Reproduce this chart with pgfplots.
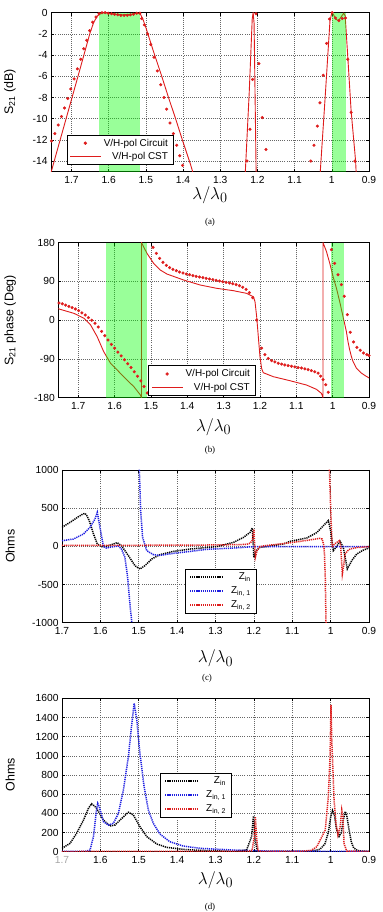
\documentclass[border=0pt]{standalone}
\usepackage{pgfplots}
\pgfplotsset{compat=1.18}
\usepackage{fontspec}
\setmainfont{Liberation Sans}
\newfontfamily\capfont{Liberation Serif}

\definecolor{cred}{RGB}{222,28,28}
\definecolor{cblue}{RGB}{30,30,225}
\definecolor{band}{RGB}{0,255,0}

\newcommand{\tickfont}{\fontsize{10.3}{12}\selectfont}
\newcommand{\legfont}{\fontsize{10}{12}\selectfont}
\newcommand{\labfont}{\fontsize{12.5}{14}\selectfont}
\newcommand{\mathlab}{\fontsize{19}{22}\selectfont}
\newcommand{\capsize}{\capfont\fontsize{9}{10}\selectfont}

\pgfplotsset{
  panel/.style={
    scale only axis, anchor=south west, x dir=reverse,
    xtick={0.9,1.0,1.1,1.2,1.3,1.4,1.5,1.6,1.7},
    grid=major, grid style={dash pattern=on 0.6bp off 1.5bp, black!60, line width=0.5bp},
    axis line style={line width=0.7bp},
    tick style={black, line width=0.5bp}, major tick length=3bp,
    tick label style={font=\tickfont},
    xticklabel style={yshift=-1.5bp},
    /pgf/number format/assume math mode=true,
    /pgf/number format/1000 sep={},
    ylabel style={font=\labfont},
    xlabel style={font=\mathlab},
    xlabel={$\lambda/\lambda_0$},
    legend style={draw=black, line width=0.6bp, fill=white, font=\legfont,
      anchor=south west, inner xsep=3bp, inner ysep=2bp, row sep=0.5bp},
    legend cell align=right,
  },
  linelegend/.style={legend image code/.code={\draw[##1] (0bp,0bp) -- (31bp,0bp);}},
  zlegend/.style={legend image code/.code={%
    \path[draw=none,fill=none] (0bp,0bp) -- (41bp,0bp);%
    \draw[##1] (2bp,0bp) -- (34bp,0bp);}},
  dotlegend/.style={legend image code/.code={%
    \path[draw=none,fill=none] (0bp,0bp) -- (31bp,0bp);%
    \draw[##1] plot coordinates {(15bp,0bp)};}},
  circuit/.style={only marks, mark=*, mark size=1.35bp, color=cred, dotlegend},
  cst/.style={color=cred, line width=0.9bp, mark=none, linelegend},
  zline/.style={dash pattern=on 1.2bp off 0.9bp, line width=1.5bp, mark=none, zlegend},
  greenband/.style={fill=band, fill opacity=0.4, draw=none, forget plot},
}

\begin{document}
\begin{tikzpicture}[x=1bp,y=1bp]
\path[use as bounding box] (0,0) rectangle (382,912);

% ---------------- (a) transmission magnitude ----------------
\begin{axis}[panel, at={(51bp,740.3bp)}, width=318bp, height=159bp,
  xmin=0.9, xmax=1.755, ymin=-15, ymax=0,
  ytick={-14,-12,-10,-8,-6,-4,-2,0},
  ylabel={S\textsubscript{21} (dB)},
  ylabel style={at={(axis description cs:-0.129,0.5)}, anchor=center},
  xlabel style={at={(axis description cs:0.5,-0.145)}, anchor=center},
  legend style={at={(axis description cs:0.049,0.042)}},
]
\addplot[circuit] coordinates {
 (1.7535,-12.1) (1.7446,-11.4) (1.7357,-10.6) (1.7267,-9.8) (1.7187,-9.0)
 (1.7098,-8.1) (1.7018,-7.2) (1.6929,-6.25) (1.6840,-5.3) (1.6750,-4.4)
 (1.6670,-3.4) (1.6590,-2.6) (1.6510,-1.7) (1.6430,-0.9) (1.6340,-0.4)
 (1.6260,-0.1) (1.6180,0.0) (1.6095,0.0) (1.6010,-0.05) (1.5925,-0.1)
 (1.5840,-0.15) (1.5755,-0.2) (1.5670,-0.25) (1.5585,-0.25) (1.5500,-0.25)
 (1.5415,-0.2) (1.5330,-0.15) (1.5245,-0.05) (1.5160,-0.05) (1.5110,-0.56)
 (1.5040,-1.15) (1.4950,-2.0) (1.4870,-3.0) (1.4780,-4.2) (1.4690,-5.5)
 (1.4600,-6.8) (1.4510,-8.0) (1.4440,-9.1) (1.4350,-10.4) (1.4260,-11.4)
 (1.4170,-12.5) (1.4090,-13.5) (1.4010,-14.4)
 (1.228,-14) (1.220,-11) (1.213,-6.3) (1.204,-0.1) (1.196,-4.8) (1.187,-9.9) (1.177,-12.9)
 (1.0565,-14) (1.048,-12.5) (1.039,-10.7) (1.032,-8.5) (1.023,-5.9) (1.014,-2.9)
 (1.006,-0.6) (0.999,0) (0.990,-0.5) (0.981,-0.75) (0.972,-0.55) (0.963,-0.5)
 (0.957,-4.4) (0.948,-9.4) (0.938,-14)
};
\addlegendentry{V/H-pol Circuit}
\addplot[cst] coordinates {
 (1.765,-16.2) (1.7535,-14.9) (1.74,-13.2) (1.72,-10.7) (1.70,-8.2) (1.68,-5.7)
 (1.665,-3.8) (1.65,-1.9) (1.64,-0.9) (1.63,-0.3) (1.62,-0.05) (1.61,0)
 (1.60,-0.05) (1.58,-0.15) (1.56,-0.2) (1.54,-0.15) (1.525,-0.05) (1.515,-0.1)
 (1.507,-0.7) (1.50,-1.4) (1.48,-3.6) (1.46,-5.7) (1.44,-7.9) (1.42,-10.0)
 (1.40,-12.2) (1.38,-14.3) (1.37,-15.5) (1.36,-17) (1.24,-17)
 (1.2325,-15) (1.222,-7.5) (1.214,-0.6) (1.2115,0) (1.209,-1.0) (1.2035,-15)
 (1.200,-17) (1.035,-17) (1.031,-15) (1.017,-7.5) (1.005,-0.8) (1.000,0)
 (0.995,-0.2) (0.990,-0.6) (0.982,-0.75) (0.975,-0.4) (0.968,-0.05)
 (0.964,-0.3) (0.957,-4.2) (0.948,-9.3) (0.936,-14) (0.934,-15.5) (0.93,-17)
};
\addlegendentry{V/H-pol CST}
\addplot[greenband] coordinates {(1.627,-15) (1.627,0) (1.517,0) (1.517,-15)};
\addplot[greenband] coordinates {(1.0,-15) (1.0,0) (0.963,0) (0.963,-15)};
\end{axis}
\node[font=\capsize] at (210,689.7) {(a)};

% ---------------- (b) transmission phase ----------------
\begin{axis}[panel, at={(58.3bp,514.3bp)}, width=310.7bp, height=155bp,
  xmin=0.9, xmax=1.755, ymin=-180, ymax=180,
  ytick={-180,-90,0,90,180},
  ylabel={S\textsubscript{21} phase (Deg)},
  ylabel style={at={(axis description cs:-0.155,0.5)}, anchor=center},
  xlabel style={at={(axis description cs:0.5,-0.19)}, anchor=center},
  legend style={at={(axis description cs:0.29,0.012)}},
]
\addplot[circuit] coordinates {
 (1.753,40) (1.744,38) (1.735,35) (1.726,32) (1.717,29) (1.708,26) (1.699,22)
 (1.690,17) (1.681,12) (1.672,6) (1.663,0) (1.654,-7) (1.645,-16) (1.636,-26)
 (1.627,-36) (1.618,-46) (1.609,-56) (1.600,-65) (1.591,-74) (1.582,-83)
 (1.573,-92) (1.564,-101) (1.555,-110) (1.546,-120) (1.537,-130) (1.528,-141)
 (1.519,-154) (1.510,-169)
 (1.4943,169.2) (1.4852,155.2) (1.4760,143.6) (1.4669,134.3) (1.4578,127.4)
 (1.4486,121.9) (1.4395,118.1) (1.4303,115.0) (1.4212,111.9) (1.4120,109.5)
 (1.4029,107.2) (1.3938,105.7) (1.3846,103.4) (1.3755,101.8) (1.3663,100.3)
 (1.3572,98.7) (1.3480,97.2) (1.3389,95.6) (1.3298,94.1) (1.3206,92.5)
 (1.3115,91.0) (1.3023,89.4) (1.2932,87.9) (1.2840,86.3) (1.2749,84.8)
 (1.2658,82.5) (1.2566,80.1) (1.2475,76.3) (1.2383,71.6) (1.2292,63.9)
 (1.2200,52.3) (1.2090,0.4)
 (1.1955,-65) (1.1864,-80) (1.1773,-89) (1.1681,-94) (1.1590,-97) (1.1499,-100)
 (1.1407,-102) (1.1316,-104) (1.1224,-105.5) (1.1133,-107) (1.1042,-108.5)
 (1.0950,-110) (1.0859,-111) (1.0767,-113) (1.0676,-115) (1.0585,-117)
 (1.0493,-120) (1.0402,-123) (1.0330,-130) (1.0265,-138) (1.0190,-150) (1.0120,-167.5)
 (1.0035,163.7) (0.9945,132) (0.9854,105.7) (0.9760,82.5) (0.9680,55.5)
 (0.9597,12.8) (0.9514,-28.1) (0.9424,-50.6) (0.9333,-63) (0.9240,-70)
 (0.9150,-76.2) (0.9060,-80.1) (0.9000,-82)
};
\addlegendentry{V/H-pol Circuit}
\addplot[cst] coordinates {
 (1.76,30) (1.753,26) (1.712,15.9) (1.684,4.3) (1.666,-11.2) (1.648,-38.3)
 (1.630,-73.2) (1.611,-100.3) (1.593,-115.7) (1.566,-139) (1.547,-154.4)
 (1.529,-173.8) (1.526,-180) (1.526,180)
 (1.511,155.2) (1.4925,132) (1.4742,116.5) (1.456,107.2) (1.410,93.3)
 (1.3645,81.7) (1.3188,74) (1.273,68.5) (1.2366,62.3) (1.2183,54.6)
 (1.2137,43) (1.2091,8.1) (1.2046,-38.3) (1.200,-84.8) (1.1955,-111.9)
 (1.191,-121.9) (1.1634,-131.2) (1.1177,-140.5) (1.072,-150.6) (1.0446,-160.6)
 (1.0309,-169.9) (1.0265,-180) (1.0265,180)
 (1.0173,160) (1.0082,132.8) (0.9991,101.9) (0.9898,74.8) (0.9808,43.8)
 (0.9717,9) (0.9624,-25.8) (0.958,-49) (0.9533,-68.5) (0.9487,-83.8)
 (0.9443,-95.5) (0.935,-111) (0.9213,-122.6) (0.9076,-130.3) (0.9,-134)
};
\addlegendentry{V/H-pol CST}
\addplot[greenband] coordinates {(1.623,-180) (1.623,180) (1.511,180) (1.511,-180)};
\addplot[greenband] coordinates {(1.0053,-180) (1.0053,180) (0.969,180) (0.969,-180)};
\end{axis}
\node[font=\capsize] at (210,462) {(b)};

% ---------------- (c) input reactance ----------------
\begin{axis}[panel, at={(62bp,289.3bp)}, width=307bp, height=152.7bp,
  xmin=0.9, xmax=1.7, ymin=-1000, ymax=1000,
  ytick={-1000,-500,0,500,1000},
  ylabel={Ohms},
  ylabel style={at={(axis description cs:-0.169,0.5)}, anchor=center},
  xlabel style={at={(axis description cs:0.5,-0.235)}, anchor=center},
  legend style={at={(axis description cs:0.40,0.06)}, row sep=1.7bp},
]
\addlegendimage{zline, black}
\addlegendentry{Z\textsubscript{in}}
\addlegendimage{zline, cblue}
\addlegendentry{Z\textsubscript{in, 1}}
\addlegendimage{zline, cred}
\addlegendentry{Z\textsubscript{in, 2}}
\addplot[zline, black, forget plot] coordinates {
 (1.70,249) (1.679,314) (1.657,389) (1.645,425) (1.640,432) (1.635,400)
 (1.629,336) (1.618,162) (1.608,31) (1.597,-4) (1.584,0) (1.566,31) (1.556,48)
 (1.545,9) (1.527,-122) (1.510,-253) (1.497,-297) (1.484,-253) (1.466,-166)
 (1.445,-109) (1.410,-66) (1.366,-35) (1.297,-4) (1.253,52) (1.227,118)
 (1.210,183) (1.204,240) (1.200,-144) (1.194,-57) (1.184,-13) (1.167,-4)
 (1.123,31) (1.106,65) (1.062,110) (1.036,180) (1.019,270) (1.006,337)
 (1.000,206) (0.993,-56) (0.986,-13) (0.9755,66) (0.967,-13) (0.9565,-296)
 (0.945,-187) (0.932,-100) (0.915,-50) (0.90,-21)
};
% Z_in,1 on both sides of its pole
\addplot[zline, cblue, forget plot] coordinates {
 (1.70,74) (1.67,96) (1.644,162) (1.627,249) (1.614,358) (1.608,445)
 (1.601,249) (1.592,-4) (1.584,-22) (1.566,-4) (1.553,4) (1.545,-35)
 (1.536,-144) (1.529,-406) (1.523,-755) (1.518,-1000) (1.515,-1300)
};
\addplot[zline, cblue, forget plot] coordinates {
 (1.501,1300) (1.4985,1000) (1.495,467) (1.490,118) (1.479,-57) (1.462,-109)
 (1.445,-118) (1.410,-92) (1.366,-66) (1.323,-39) (1.253,-22) (1.200,-4)
 (1.167,-4) (1.0,-4) (0.90,-4)
};
% Z_in,2 on both sides of its pole
\addplot[zline, cred, forget plot] coordinates {
 (1.70,12) (1.50,14) (1.30,18) (1.22,25) (1.21,40) (1.204,80) (1.200,225)
 (1.198,30) (1.196,-140) (1.192,-60) (1.185,-5) (1.17,10) (1.15,20) (1.10,50)
 (1.054,84) (1.028,105) (1.022,95) (1.018,20) (1.016,-100) (1.014,-400)
 (1.012,-1000) (1.011,-1300)
};
\addplot[zline, cred, forget plot] coordinates {
 (1.004,1300) (1.003,1000) (0.9997,468) (0.996,-13) (0.990,30) (0.983,55)
 (0.977,75) (0.974,20) (0.9695,-362) (0.966,-250) (0.9624,-100) (0.955,-55)
 (0.949,-34) (0.93,-15) (0.90,-4)
};
\end{axis}
\node[font=\capsize] at (207,233.7) {(c)};

% ---------------- (d) input resistance ----------------
\begin{axis}[panel, at={(62bp,60.3bp)}, width=307bp, height=153.4bp,
  xmin=0.9, xmax=1.7, ymin=0, ymax=1600,
  ytick={0,200,400,600,800,1000,1200,1400,1600},
  xticklabels={0.9,1,1.1,1.2,1.3,1.4,1.5,1.6,\textcolor{black!35}{1.7}},
  ylabel={Ohms},
  ylabel style={at={(axis description cs:-0.169,0.5)}, anchor=center},
  xlabel style={at={(axis description cs:0.5,-0.185)}, anchor=center},
  legend style={at={(axis description cs:0.319,0.224)}, row sep=1.5bp},
]
\addplot[zline, black] coordinates {
 (1.70,35) (1.679,87) (1.662,191) (1.644,330) (1.631,452) (1.623,500)
 (1.615,475) (1.610,452) (1.592,330) (1.575,268) (1.562,278) (1.544,348)
 (1.527,412) (1.514,383) (1.497,261) (1.479,157) (1.453,80) (1.427,45)
 (1.384,24) (1.34,14) (1.253,3) (1.219,17) (1.206,157) (1.201,372) (1.197,139)
 (1.191,3) (1.08,3) (1.05,6) (1.028,24) (1.015,80) (1.006,200) (1.000,360)
 (0.995,430) (0.990,380) (0.985,240) (0.978,160) (0.972,200) (0.967,330)
 (0.962,420) (0.958,380) (0.952,230) (0.946,100) (0.94,40) (0.93,12)
 (0.91,4) (0.90,3)
};
\addlegendentry{Z\textsubscript{in}}
\addplot[zline, cblue] coordinates {
 (1.70,3) (1.64,3) (1.627,17) (1.618,157) (1.610,435) (1.607,505) (1.603,470)
 (1.592,313) (1.579,278) (1.566,296) (1.553,400) (1.540,643) (1.527,991)
 (1.518,1339) (1.512,1548) (1.505,1374) (1.497,1026) (1.486,678) (1.475,435)
 (1.462,296) (1.445,185) (1.419,104) (1.384,59) (1.34,35) (1.253,17)
 (1.167,7) (1.0,4) (0.90,3)
};
\addlegendentry{Z\textsubscript{in, 1}}
\addplot[zline, cred] coordinates {
 (1.70,2) (1.22,3) (1.205,10) (1.199,150) (1.196,365) (1.193,150) (1.189,10)
 (1.18,2) (1.08,3) (1.05,15) (1.036,52) (1.014,226) (1.006,574) (1.0015,991)
 (0.999,1530) (0.997,1165) (0.991,539) (0.986,296) (0.981,174) (0.975,261)
 (0.971,435) (0.968,365) (0.965,83) (0.958,7) (0.90,2)
};
\addlegendentry{Z\textsubscript{in, 2}}
\end{axis}
\node[font=\capsize] at (210,5) {(d)};
\end{tikzpicture}
\end{document}
